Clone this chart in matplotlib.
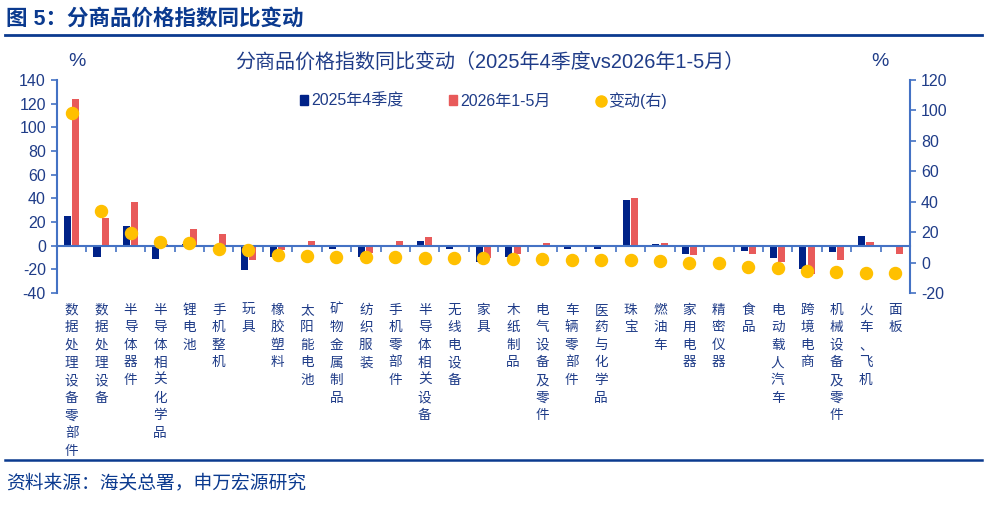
import matplotlib
matplotlib.use('Agg')
import matplotlib.pyplot as plt
import matplotlib.transforms as mtransforms
from matplotlib.lines import Line2D
from matplotlib.patches import Patch
import numpy as np

plt.rcParams['font.family'] = ['Liberation Sans', 'Noto Sans CJK SC', 'DejaVu Sans']
plt.rcParams['axes.unicode_minus'] = False

# data
categories = ['数据处理设备零部件', '数据处理设备', '半导体器件', '半导体相关化学品', '锂电池',
              '手机整机', '玩具', '橡胶塑料', '太阳能电池', '矿物金属制品', '纺织服装',
              '手机零部件', '半导体相关设备', '无线电设备', '家具', '木纸制品', '电气设备及零件',
              '车辆零部件', '医药与化学品', '珠宝', '燃油车', '家用电器', '精密仪器', '食品',
              '电动载人汽车', '跨境电商', '机械设备及零件', '火车、飞机', '面板']
q4_2025 = [25, -10, 17, -11, 1, 0, -20.5, -10, 0, -3, -10, 0, 4, -3, -14, -10, 0,
           -2.5, -2.5, 38.6, 1.4, -7, 0, -4.5, -10.5, -19.5, -5.6, 8.5, 0]
m1_5_2026 = [124, 23.7, 37, 1, 14, 10, -12, -4, 4, 0, -6.5, 4, 7.5, 0, -10.8, -7, 2,
             0, 0, 40.6, 2, -7.5, 0, -7, -14, -23.7, -12, 2.8, -7]
change = [98.6, 34, 19.7, 13.8, 13, 9, 8.3, 5.2, 4.5, 3.9, 3.9, 3.9, 2.8, 2.8, 2.8,
          2.4, 2.4, 1.7, 1.7, 1.7, 1, 0, -0.5, -2.6, -3.3, -5.3, -6.1, -6.6, -6.6]
left_ticks = list(range(-40, 141, 20))
right_ticks = list(range(-20, 121, 20))

# colours
NAVY = '#002288'
RED = '#E85A5A'
GOLD = '#FFC000'
TXT = '#1F3C88'
AXC = '#4472C4'
HEAD = '#0B3A8F'

fig = plt.figure(figsize=(9.9, 5.05), dpi=100)
ax = fig.add_axes([57 / 990, 1 - 293 / 505, (910 - 57) / 990, (293 - 80) / 505])
ax2 = ax.twinx()

x = np.arange(len(categories))
w = 0.24
ax.bar(x - 0.14, q4_2025, width=w, color=NAVY, zorder=2)
ax.bar(x + 0.14, m1_5_2026, width=w, color=RED, zorder=2)
ax2.scatter(x, change, s=75, color=GOLD, zorder=3)

ax.set_xlim(-0.5, len(categories) - 0.5)
ax.set_ylim(-40, 140)
ax.set_yticks(left_ticks)
ax2.set_ylim(-20, 120)
ax2.set_yticks(right_ticks)

# spines
ax.spines['top'].set_visible(False)
ax2.spines['top'].set_visible(False)
ax2.spines['bottom'].set_visible(False)
ax2.spines['left'].set_visible(False)
ax.spines['right'].set_visible(False)
ax.spines['left'].set_color(AXC)
ax.spines['left'].set_linewidth(1.5)
ax2.spines['right'].set_color(AXC)
ax2.spines['right'].set_linewidth(1.5)
ax.spines['bottom'].set_position(('data', 0))
ax.spines['bottom'].set_color(AXC)
ax.spines['bottom'].set_linewidth(1.5)
ax.spines['bottom'].set_zorder(2.5)

ax.set_xticks(np.arange(len(categories) + 1) - 0.5)
ax.set_xticklabels([])
ax.tick_params(axis='x', direction='out', length=4, width=1.2, color=AXC)
ax.tick_params(axis='y', direction='out', length=4, width=1.2, color=AXC,
               labelcolor=TXT, labelsize=11.5, pad=4)
ax2.tick_params(axis='y', direction='out', length=4, width=1.2, color=AXC,
                labelcolor=TXT, labelsize=11.5, pad=4)

# vertical category labels
trans = mtransforms.blended_transform_factory(ax.transData, ax.transAxes)
for i, c in enumerate(categories):
    ax.text(i, -0.045, '\n'.join(c), transform=trans, ha='center', va='top',
            fontsize=9.8, color=TXT, linespacing=1.33)

# legend
handles = [Patch(color=NAVY, label='2025年4季度'),
           Patch(color=RED, label='2026年1-5月'),
           Line2D([], [], marker='o', linestyle='', markersize=8, color=GOLD, label='变动(右)')]
leg = ax.legend(handles=handles, loc='center', bbox_to_anchor=(0.5, 0.905), ncol=3,
                frameon=False, fontsize=11.5, handlelength=0.5, handleheight=0.5,
                handletextpad=0.2, columnspacing=2.9)
for t in leg.get_texts():
    t.set_color(TXT)

# titles
fig.text(490 / 990, 1 - 62 / 505, '分商品价格指数同比变动（2025年4季度vs2026年1-5月）',
         ha='center', va='center', fontsize=14.4, color=TXT)
fig.text(77 / 990, 1 - 62 / 505, '%', ha='center', va='center', fontsize=14, color=TXT)
fig.text(880 / 990, 1 - 62 / 505, '%', ha='center', va='center', fontsize=14, color=TXT)

fig.text(6 / 990, 1 - 19 / 505, '图 5：分商品价格指数同比变动', ha='left', va='center',
         fontsize=15.5, fontweight='bold', color=HEAD)
fig.add_artist(Line2D([5 / 990, 982 / 990], [1 - 35 / 505, 1 - 35 / 505], color=HEAD, lw=2))
fig.add_artist(Line2D([5 / 990, 982 / 990], [1 - 460 / 505, 1 - 460 / 505], color=HEAD, lw=1.8))
fig.text(6 / 990, 1 - 483 / 505, '资料来源：海关总署，申万宏源研究', ha='left', va='center',
         fontsize=13.5, color=HEAD)

fig.savefig('out.png', dpi=100)
